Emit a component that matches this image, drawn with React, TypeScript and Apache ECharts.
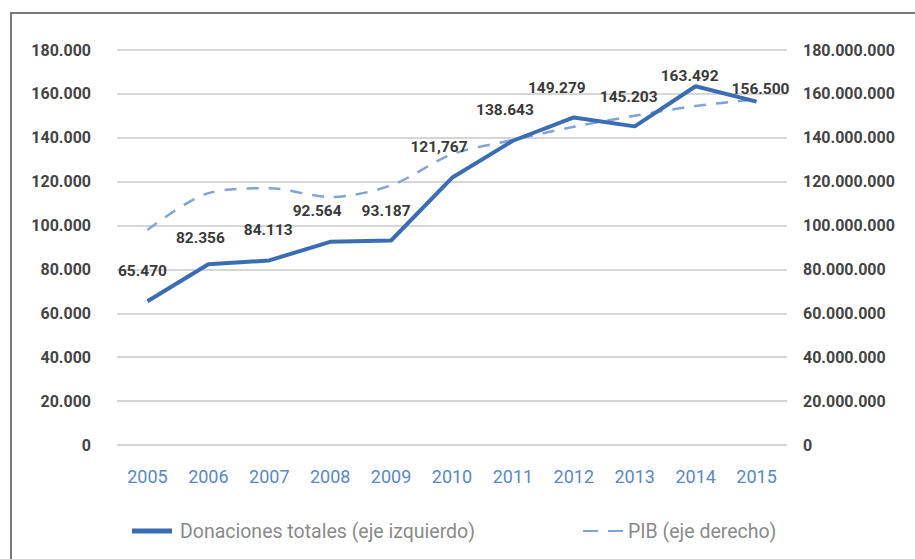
import React, { useEffect, useRef } from "react";
import * as echarts from "echarts";

const years = ["2005", "2006", "2007", "2008", "2009", "2010", "2011", "2012", "2013", "2014", "2015"];
const donaciones = [65470, 82356, 84113, 92564, 93187, 121767, 138643, 149279, 145203, 163492, 156500];
const donacionesLabels = ["65.470", "82.356", "84.113", "92.564", "93.187", "121,767", "138.643", "149.279", "145.203", "163.492", "156.500"];
const pib = [98000000, 114800000, 117000000, 113000000, 118300000, 132500000, 139000000, 145000000, 150000000, 154500000, 157500000];
const leftTicks = { min: 0, max: 180000, interval: 20000 };
const rightTicks = { min: 0, max: 180000000, interval: 20000000 };
const legendNames = ["Donaciones totales (eje izquierdo)", "PIB (eje derecho)"];

// label layout offsets (styling, not data)
const labelOffsets: [number, number][] = [
  [-5, -17], [-8, -13], [-1, -17], [-13, -18], [-5, -17], [-13, -18],
  [-8, -18], [-17, -16], [-6, -16], [-6, 3], [4, 0],
];

const FONT = "Roboto, 'Noto Sans', sans-serif";

function dots(v: number): string {
  return String(Math.round(v)).replace(/\B(?=(\d{3})+(?!\d))/g, ".");
}

export default function App() {
  const ref = useRef<HTMLDivElement>(null);
  useEffect(() => {
    if (!ref.current) return;
    const chart = echarts.init(ref.current, undefined, { renderer: "svg" });
    const solidColor = "#3b6db4";
    const dashColor = "#82a3d8";
    chart.setOption({
      animation: false,
      backgroundColor: "#ffffff",
      textStyle: { fontFamily: FONT },
      graphic: [
        {
          type: "rect",
          shape: { x: 11, y: 13, width: 1000, height: 1000 },
          style: { fill: "none", stroke: "#7a7a7a", lineWidth: 2 },
          z: 0,
        },
      ],
      grid: { left: 117, right: 128, top: 50, bottom: 114, containLabel: false },
      legend: [
        {
          left: 127,
          top: 516,
          data: [{ name: legendNames[0], icon: "rect" }],
          itemWidth: 40,
          itemHeight: 5,
          itemGap: 10,
          textStyle: { color: "#8a8a8a", fontSize: 19.5, fontFamily: FONT, padding: [0, 0, 0, 3] },
        },
        {
          left: 578,
          top: 516,
          data: [{ name: legendNames[1], icon: "path://M0,0H15V2H0Z M25,0H40V2H25Z" }],
          itemWidth: 40,
          itemHeight: 2,
          textStyle: { color: "#8a8a8a", fontSize: 19.5, fontFamily: FONT },
        },
      ],
      xAxis: {
        type: "category",
        data: years,
        boundaryGap: true,
        axisLine: { show: false },
        axisTick: { show: false },
        axisLabel: { color: "#5a88c8", fontSize: 18, margin: 22, fontFamily: FONT },
      },
      yAxis: [
        {
          type: "value",
          ...leftTicks,
          position: "left",
          axisLine: { show: false },
          axisTick: { show: false },
          splitLine: { lineStyle: { color: "#d6d6d6", width: 2 } },
          axisLabel: {
            color: "#444",
            fontSize: 16,
            fontWeight: "bold",
            margin: 26,
            fontFamily: FONT,
            formatter: (v: number) => dots(v),
          },
        },
        {
          type: "value",
          ...rightTicks,
          position: "right",
          axisLine: { show: false },
          axisTick: { show: false },
          splitLine: { show: false },
          axisLabel: {
            color: "#444",
            fontSize: 16,
            fontWeight: "bold",
            margin: 16,
            fontFamily: FONT,
            formatter: (v: number) => dots(v),
          },
        },
      ],
      series: [
        {
          name: legendNames[1],
          type: "line",
          yAxisIndex: 1,
          data: pib,
          smooth: 0.3,
          symbol: "none",
          lineStyle: { color: dashColor, width: 2.5, type: [12, 10] },
          itemStyle: { color: dashColor },
          z: 2,
        },
        {
          name: legendNames[0],
          type: "line",
          yAxisIndex: 0,
          data: donaciones.map((v, i) => ({
            value: v,
            label: { offset: labelOffsets[i] },
          })),
          symbol: "circle",
          symbolSize: 0,
          showSymbol: true,
          lineStyle: { color: solidColor, width: 4 },
          itemStyle: { color: solidColor },
          label: {
            show: true,
            position: "top",
            color: "#3a3a3a",
            fontSize: 15.5,
            fontWeight: "bold",
            fontFamily: FONT,
            formatter: (p: any) => donacionesLabels[p.dataIndex],
          },
          z: 3,
        },
      ],
    });
    return () => chart.dispose();
  }, []);
  return (
    <div
      ref={ref}
      style={{ position: "absolute", left: 0, top: 0, width: 915, height: 559 }}
    />
  );
}
